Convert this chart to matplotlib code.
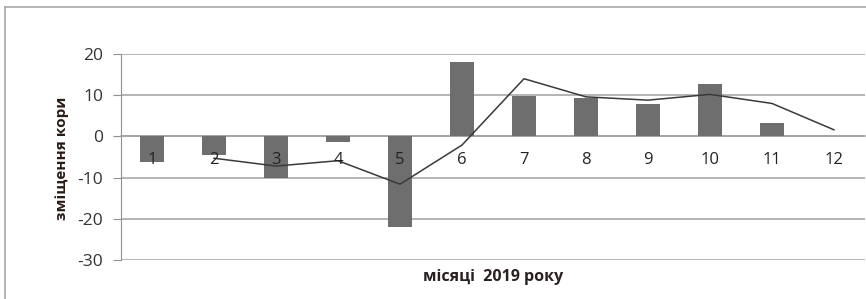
import matplotlib
matplotlib.use("Agg")
import matplotlib.pyplot as plt
from matplotlib.lines import Line2D

plt.rcParams['font.family'] = ['Open Sans', 'DejaVu Sans']
plt.rcParams['axes.unicode_minus'] = False

months = [str(m) for m in range(1, 13)]
shift = [-6.1, -4.5, -10.0, -1.4, -22.0, 18.0, 9.9, 9.4, 7.9, 12.6, 3.2, 0.0]
trend_months = months[1:]
trend = [-5.3, -7.2, -5.9, -11.6, -2.1, 14.0, 9.6, 8.8, 10.2, 8.0, 1.6]
yticks = [-30, -20, -10, 0, 10, 20]

fig = plt.figure(figsize=(8.66, 2.99), dpi=100)
ax = fig.add_axes([121 / 866, 1 - 260 / 299, 744 / 866, 206 / 299])

ax.bar(months, shift, width=0.4, color='#6e6e6e', zorder=3)
ax.plot(trend_months, trend, color='#3a3a3a', lw=1.1, zorder=4)

ax.set_ylim(-30, 20)
ax.set_xlim(-0.5, 11.5)
ax.set_yticks(yticks)
ax.yaxis.grid(True, color='#a0a0a0', lw=1.1)
ax.set_axisbelow(True)
ax.xaxis.set_zorder(5)  # month labels sit on top of the bars

for s in ['top', 'right']:
    ax.spines[s].set_visible(False)
ax.spines['left'].set_color('#909090')
ax.spines['bottom'].set_position(('data', 0))
ax.spines['bottom'].set_color('#a0a0a0')
ax.spines['bottom'].set_linewidth(1.1)

ax.tick_params(axis='y', length=6, color='#909090', pad=7, labelsize=12.5, labelcolor='#333333')
ax.tick_params(axis='x', length=0, pad=11, labelsize=12, labelcolor='#222222')

ax.text(0.5, -0.083, 'місяці  2019 року', transform=ax.transAxes, ha='center', va='center',
        fontsize=11.5, fontweight='bold', color='#2a2020')
fig.text(62 / 866, 1 - 158 / 299, 'зміщення кори', rotation=90, ha='center', va='center',
         fontsize=11, fontweight='bold', color='#2a1a14')

# outer chart frame (only top and left edges visible in the crop)
fig.add_artist(Line2D([5 / 866, 1], [1 - 7 / 299, 1 - 7 / 299], transform=fig.transFigure, color='#a8a8a8', lw=1.2))
fig.add_artist(Line2D([5 / 866, 5 / 866], [0, 1 - 7 / 299], transform=fig.transFigure, color='#a8a8a8', lw=1.2))

fig.savefig('out.png', dpi=100)
